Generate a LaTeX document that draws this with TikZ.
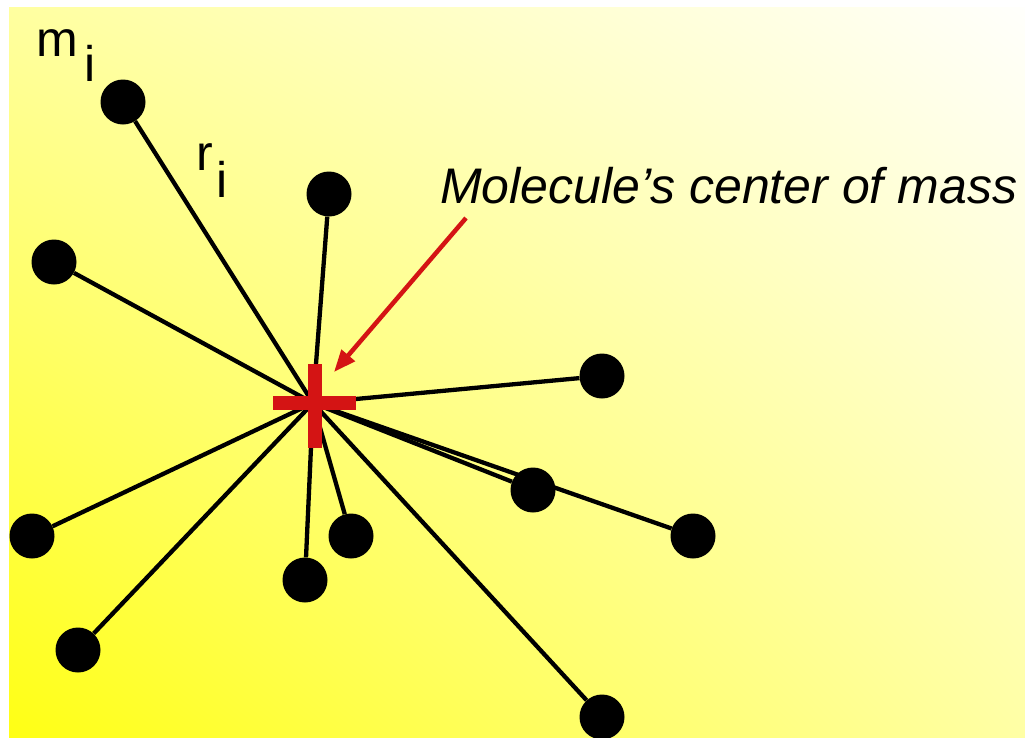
\documentclass[tikz,border=0pt]{standalone}
\usepackage{fontspec}
\setmainfont{Liberation Sans}
\usetikzlibrary{arrows.meta,shadings}
\definecolor{bgY}{RGB}{255,255,20}
\definecolor{bgUL}{RGB}{255,255,160}
\definecolor{bgLR}{RGB}{255,255,165}
\definecolor{bgW}{RGB}{255,255,252}
\definecolor{crossred}{RGB}{212,20,20}
\tikzset{
  atom/.style={circle,fill=black,inner sep=0pt,minimum size=45pt},
  bond/.style={line width=4.3pt,black},
  lbl/.style={inner sep=0pt,font=\fontsize{50}{60}\selectfont},
  pointer/.style={crossred,line width=4.5pt,-{Triangle[length=22pt,width=17pt]}}
}
\begin{document}
\begin{tikzpicture}[x=1pt,y=-1pt]
\useasboundingbox (0,0) rectangle (1025,737);
\fill[white] (0,0) rectangle (1025,737);
\shade[lower left=bgY,upper right=bgW,upper left=bgUL,lower right=bgLR] (9,7) rectangle (1025,737);
\coordinate (c) at (313,403);
\node[atom] (a1) at (123,102) {};
\node[atom] (a2) at (329,194) {};
\node[atom] (a3) at (54,262) {};
\node[atom] (a4) at (602,376) {};
\node[atom] (a5) at (533,490) {};
\node[atom] (a6) at (693,536) {};
\node[atom] (a7) at (32,536) {};
\node[atom] (a8) at (351,536) {};
\node[atom] (a9) at (305,580) {};
\node[atom] (a10) at (78,650) {};
\node[atom] (a11) at (602,717) {};
\foreach \n in {1,...,11} \draw[bond] (c) -- (a\n);
\fill[crossred] (308,364) rectangle (322,448);
\fill[crossred] (273,396) rectangle (356,410);
\node[lbl,anchor=base west] (m) at (36,56) {m};
\node[lbl,anchor=base west] (mi) at (84,81) {i};
\node[lbl,anchor=base west] (r) at (196,170) {r};
\node[lbl,anchor=base west] (ri) at (216,197) {i};
\node[lbl,anchor=base west] (title) at (440,203) {\itshape Molecule’s center of mass};
\coordinate (tail) at (466,218);
\coordinate (tip) at (334,372);
\draw[pointer] (tail) -- (tip);
\end{tikzpicture}
\end{document}
